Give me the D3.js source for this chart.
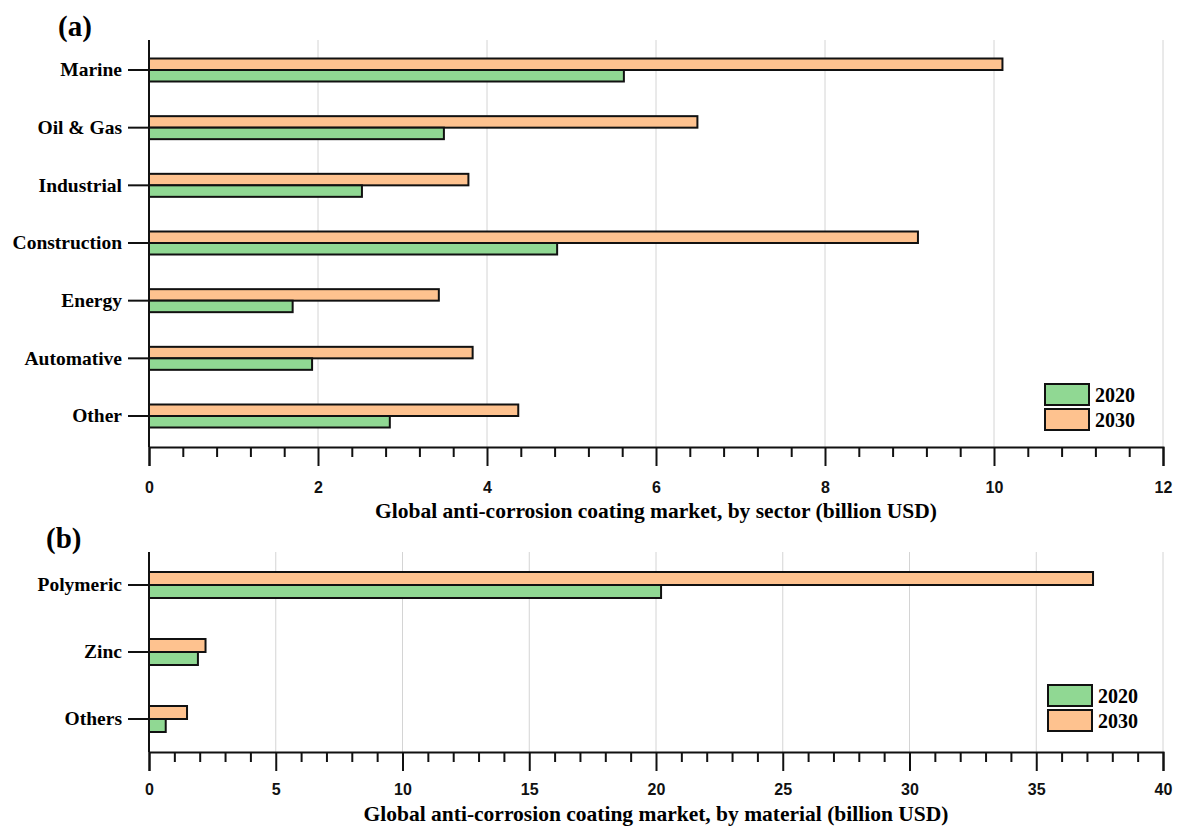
<!DOCTYPE html>
<html>
<head>
<meta charset="utf-8">
<script src="https://cdn.jsdelivr.net/npm/d3@7"></script>
<style>
  body { margin: 0; background: #fff; }
  .cat { font-family: "Liberation Serif", "Times New Roman", serif; font-weight: bold; font-size: 19.5px; }
  .title { font-family: "Liberation Serif", "Times New Roman", serif; font-weight: bold; font-size: 21.5px; }
  .panel { font-family: "Liberation Serif", "Times New Roman", serif; font-weight: bold; font-size: 29px; }
  .leg { font-family: "Liberation Serif", "Times New Roman", serif; font-weight: bold; font-size: 20px; }
</style>
</head>
<body>
<svg id="chart" width="1182" height="826"></svg>
<script>
// panel (a): by sector
const sectors = ["Marine", "Oil & Gas", "Industrial", "Construction", "Energy", "Automative", "Other"];
const sector2020 = [5.62, 3.49, 2.52, 4.83, 1.70, 1.93, 2.85];
const sector2030 = [10.1, 6.49, 3.78, 9.10, 3.43, 3.83, 4.37];
const sectorTicks = [0, 2, 4, 6, 8, 10, 12];

// panel (b): by material
const materials = ["Polymeric", "Zinc", "Others"];
const material2020 = [20.2, 1.93, 0.66];
const material2030 = [37.24, 2.23, 1.5];
const materialTicks = [0, 5, 10, 15, 20, 25, 30, 35, 40];

const years = ["2020", "2030"];
const green = "#90d893";
const orange = "#fec28f";

const svg = d3.select("#chart");

function drawPanel(opt) {
    const g = svg.append("g");
    const x = d3.scaleLinear().domain(opt.domain).range([149, 1163]);
    const y = d3.scalePoint().domain(opt.cats).range([opt.firstY, opt.lastY]);

    // grid
    g.selectAll(".grid")
        .data(opt.ticks.filter(t => t > 0))
        .enter().append("line")
        .attr("x1", d => x(d)).attr("x2", d => x(d))
        .attr("y1", opt.top).attr("y2", opt.axisY)
        .attr("stroke", "#d4d4d4").attr("stroke-width", 1);

    // bars: 2030 above the category line, 2020 below
    const rows = opt.cats.map((c, i) => ({ c, v20: opt.v20[i], v30: opt.v30[i] }));
    g.selectAll(".b30").data(rows).enter().append("rect")
        .attr("x", x(0)).attr("y", d => y(d.c) - opt.barH)
        .attr("width", d => x(d.v30) - x(0)).attr("height", opt.barH)
        .attr("fill", orange).attr("stroke", "#111").attr("stroke-width", 2);
    g.selectAll(".b20").data(rows).enter().append("rect")
        .attr("x", x(0)).attr("y", d => y(d.c))
        .attr("width", d => x(d.v20) - x(0)).attr("height", opt.barH)
        .attr("fill", green).attr("stroke", "#111").attr("stroke-width", 2);

    // left axis
    g.append("line").attr("x1", 149).attr("x2", 149)
        .attr("y1", opt.top).attr("y2", opt.axisY)
        .attr("stroke", "#111").attr("stroke-width", 2);
    g.selectAll(".ytick").data(opt.cats).enter().append("line")
        .attr("x1", 128).attr("x2", 149)
        .attr("y1", d => y(d)).attr("y2", d => y(d))
        .attr("stroke", "#111").attr("stroke-width", 2);
    g.selectAll(".ylab").data(opt.cats).enter().append("text")
        .attr("class", "cat")
        .attr("x", 122).attr("y", d => y(d)).attr("dy", "0.33em")
        .attr("text-anchor", "end").text(d => d);

    // bottom axis
    const xAxis = d3.axisBottom(x).tickValues(opt.ticks).tickSize(19).tickFormat(d3.format("d"));
    const ax = g.append("g").attr("transform", `translate(0,${opt.axisY})`).call(xAxis)
        .attr("font-size", 16)
        .attr("font-family", "'Liberation Sans', Arial, sans-serif")
        .attr("font-weight", "bold");
    ax.select(".domain").attr("stroke", "#111").attr("stroke-width", 2);
    ax.selectAll(".tick line").attr("stroke", "#111").attr("stroke-width", 2);
    ax.selectAll(".tick text").attr("fill", "#111").attr("y", opt.labelY)
        .style("font-size", "16px").style("font-weight", "bold");
    const minor = d3.range(opt.domain[0], opt.domain[1] + 1e-9, opt.minorStep)
        .filter(v => !opt.ticks.some(t => Math.abs(t - v) < 1e-6));
    const mx = d3.axisBottom(x).tickValues(minor).tickSize(10).tickFormat("");
    const ax2 = g.append("g").attr("transform", `translate(0,${opt.axisY})`).call(mx);
    ax2.select(".domain").remove();
    ax2.selectAll(".tick line").attr("stroke", "#111").attr("stroke-width", 2);

    g.append("text").attr("class", "title")
        .attr("x", 656).attr("y", opt.titleY).attr("text-anchor", "middle")
        .text(opt.title);

    g.append("text").attr("class", "panel")
        .attr("x", opt.panelX).attr("y", opt.panelY).text(opt.panel);

    // legend
    const leg = g.append("g").attr("transform", `translate(${opt.legX},${opt.legY})`);
    [green, orange].forEach((c, i) => {
        leg.append("rect").attr("x", 0).attr("y", i * 25)
            .attr("width", 44).attr("height", 21)
            .attr("fill", c).attr("stroke", "#111").attr("stroke-width", 2);
        leg.append("text").attr("class", "leg")
            .attr("x", 50).attr("y", i * 25 + 11).attr("dy", "0.35em").text(years[i]);
    });
}

drawPanel({
    cats: sectors, v20: sector2020, v30: sector2030,
    domain: [0, 12], ticks: sectorTicks, minorStep: 0.4,
    firstY: 70, lastY: 416, barH: 11.5, top: 40, axisY: 447, labelY: 35,
    title: "Global anti-corrosion coating market, by sector (billion USD)",
    titleY: 518, panel: "(a)", panelX: 58, panelY: 36, legX: 1045, legY: 384
});

drawPanel({
    cats: materials, v20: material2020, v30: material2030,
    domain: [0, 40], ticks: materialTicks, minorStep: 1,
    firstY: 585, lastY: 719, barH: 13, top: 552, axisY: 752, labelY: 32,
    title: "Global anti-corrosion coating market, by material (billion USD)",
    titleY: 821, panel: "(b)", panelX: 46, panelY: 548, legX: 1048, legY: 685
});
</script>
</body>
</html>
